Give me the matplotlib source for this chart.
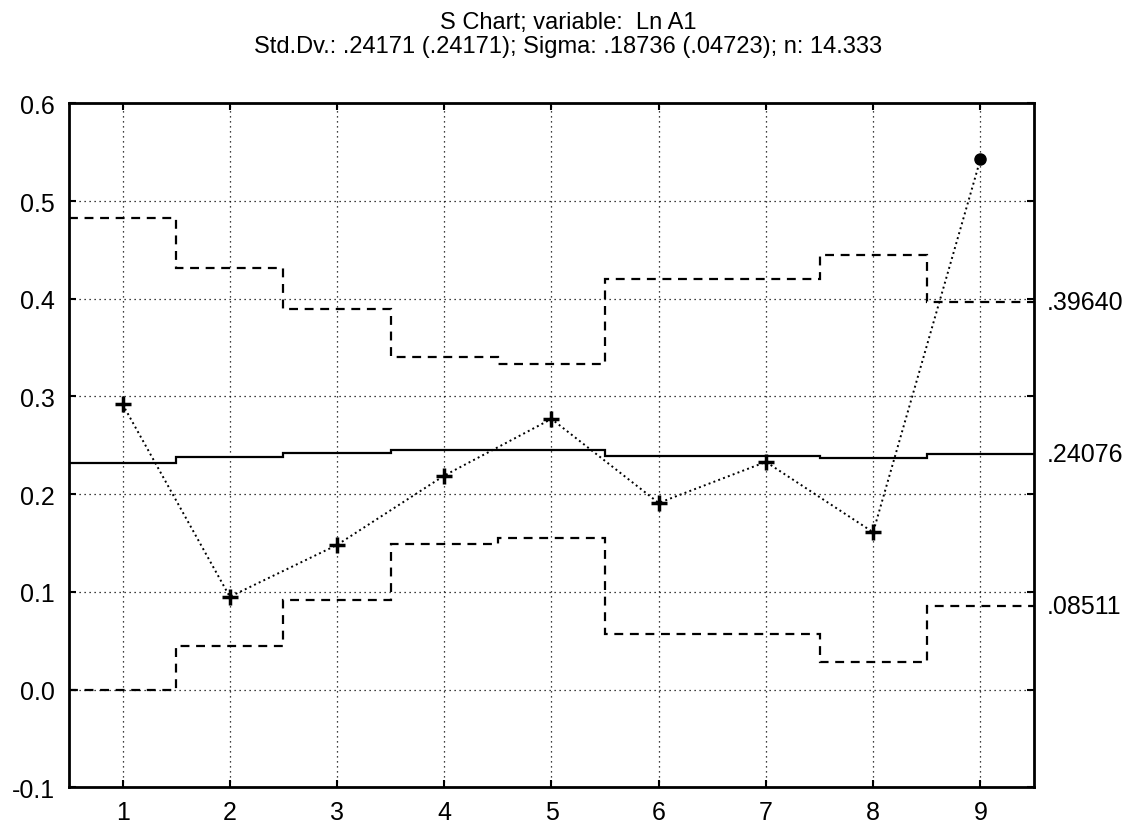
import numpy as np
import matplotlib as mpl
mpl.use("Agg")
import matplotlib.pyplot as plt
from matplotlib import transforms

plt.rcParams['font.family'] = ['Liberation Sans', 'DejaVu Sans']

# subgroup numbers and sample standard deviations
samples = [1, 2, 3, 4, 5, 6, 7, 8, 9]
std_dev = [0.292, 0.095, 0.148, 0.219, 0.277, 0.191, 0.233, 0.161, 0.5426]
out_of_control = [False, False, False, False, False, False, False, False, True]

# control limits per subgroup (vary with sample size)
ucl = [0.483, 0.431, 0.390, 0.340, 0.3335, 0.420, 0.420, 0.445, 0.39640]
center = [0.2315, 0.238, 0.2418, 0.245, 0.245, 0.239, 0.2386, 0.2373, 0.24076]
lcl = [0.0, 0.045, 0.092, 0.1485, 0.155, 0.057, 0.0564, 0.028, 0.08511]

limit_labels = ['.39640', '.24076', '.08511']

title_1 = 'S Chart; variable:  Ln A1'
title_2 = 'Std.Dv.: .24171 (.24171); Sigma: .18736 (.04723); n: 14.333'

fig = plt.figure(figsize=(11.36, 8.28), dpi=100)
ax = fig.add_axes([0.0607, 0.048, 0.8495, 0.826])

edges = np.arange(len(samples) + 1) + 0.5
ax.stairs(ucl, edges, baseline=None, color='k', linestyle=(0, (4, 3)),
          linewidth=1.6)
ax.stairs(lcl, edges, baseline=None, color='k', linestyle=(0, (4, 3)),
          linewidth=1.6)
ax.stairs(center, edges, baseline=None, color='k', linewidth=1.6)

x = np.array(samples)
y = np.array(std_dev)
flag = np.array(out_of_control)
ax.plot(x, y, color='k', linestyle=':', linewidth=1.4)
ax.plot(x[~flag], y[~flag], linestyle='none', marker='+', color='k',
        markersize=12, markeredgewidth=2.5)
ax.plot(x[flag], y[flag], linestyle='none', marker='o', color='k',
        markersize=8)

# values of the last limits written beside the right edge
trans = transforms.blended_transform_factory(ax.transAxes, ax.transData)
for val, lab in zip([ucl[-1], center[-1], lcl[-1]], limit_labels):
    ax.text(1.013, val, lab, transform=trans, va='center', ha='left',
            fontsize=18)

ax.set_xlim(0.5, 9.5)
ax.set_ylim(-0.1, 0.6)
ax.set_xticks(samples)
yt = np.round(np.arange(-0.1, 0.61, 0.1), 1)
ax.set_yticks(yt)
ax.set_yticklabels([f'{t:.1f}' for t in yt])
ax.grid(True, color='k', linestyle=(0, (1, 3)), linewidth=0.9)
ax.tick_params(direction='in', length=5, width=1.5, labelsize=18,
               top=True, right=True)
ax.tick_params(axis='x', pad=9)
ax.tick_params(axis='y', pad=10)
for s in ax.spines.values():
    s.set_linewidth(2)

fig.text(0.5, 0.972, title_1, ha='center', va='center', fontsize=17)
fig.text(0.5, 0.943, title_2, ha='center', va='center', fontsize=17)

fig.savefig('out.png', dpi=100)
